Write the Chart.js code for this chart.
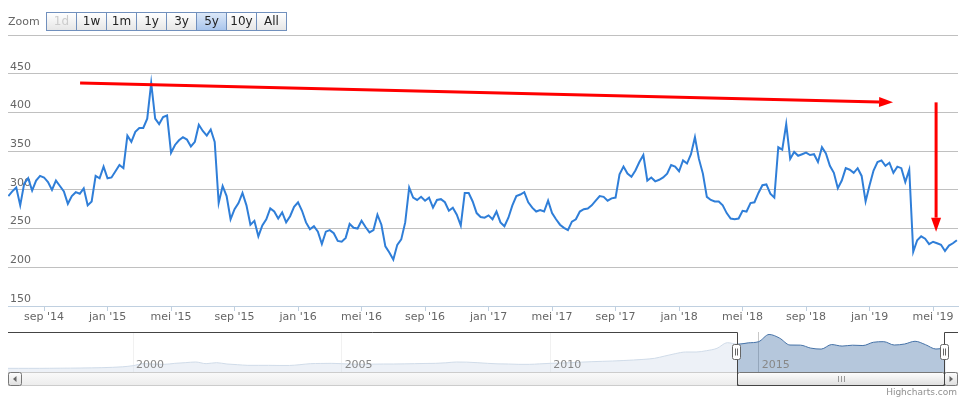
<!DOCTYPE html>
<html>
<head>
<meta charset="utf-8">
<script src="https://cdn.jsdelivr.net/npm/chart.js@4/dist/chart.umd.min.js"></script>
<style>
body { margin: 0; background: #fff; }
#wrap { position: relative; width: 974px; height: 399px; overflow: hidden; font-family: "DejaVu Sans", Verdana, sans-serif; }
canvas { position: absolute; left: 0; }
#main { top: 0; }
#nav { top: 330px; }
.zoomLabel { position: absolute; left: 8px; top: 15px; font-size: 11px; line-height: 13px; color: #666; }
.btn { position: absolute; top: 12px; width: 31px; height: 19px; box-sizing: border-box; border: 1px solid #7190bd;
       background: linear-gradient(#ffffff, #e6e6e6); font-size: 12px; line-height: 17px; text-align: center; color: #222; }
.btn.sel { background: linear-gradient(#dce8f8, #a9c5ec); }
.btn.off { color: #cccccc; }
.credits { position: absolute; right: 17px; top: 387px; font-size: 9px; line-height: 11px; color: #909090; }
</style>
</head>
<body>
<div id="wrap">
  <canvas id="main" width="974" height="330"></canvas>
  <canvas id="nav" width="974" height="69"></canvas>
  <div class="zoomLabel">Zoom</div>
  <div id="buttons"></div>
  <div class="credits">Highcharts.com</div>
</div>
<script>
const FONT = '"DejaVu Sans", Verdana, sans-serif';

// main series: one close every quarter month, months counted from jan 2014
const baseYear = 2014;
const startMonth = 5.75;
const stepMonth = 0.25;
const prices = [
  292, 298, 303, 280, 308, 315, 299, 312, 318, 316, 310, 300, 312, 305, 298, 282, 292, 297, 295, 302,
  280, 285, 318, 315, 330, 315, 316, 324, 332, 328, 370, 362, 375, 380, 380, 392, 438, 392, 385, 394,
  396, 348, 358, 364, 368, 365, 356, 362, 384, 376, 370, 378, 362, 283, 305, 292, 262, 275, 283, 296,
  280, 255, 260, 240, 254, 262, 276, 272, 263, 271, 258, 266, 278, 284, 273, 258, 249, 253, 246, 230,
  246, 248, 244, 234, 233, 238, 256, 251, 250, 260, 252, 245, 248, 268, 255, 227, 219, 210, 229, 236,
  258, 303, 290, 287, 291, 286, 290, 277, 287, 288, 284, 273, 277, 268, 254, 296, 296, 285, 270, 265,
  264, 267, 262, 272, 258, 253, 264, 280, 292, 294, 297, 284, 277, 272, 274, 272, 286, 270, 262, 255,
  251, 248, 259, 262, 272, 275, 276, 280, 286, 292, 291, 286, 289, 290, 320, 330, 321, 317, 325, 336,
  345, 312, 316, 311, 313, 316, 321, 332, 330, 324, 338, 334, 346, 368, 340, 321, 291, 287, 285, 285,
  280, 270, 263, 262, 263, 273, 272, 283, 284, 296, 306, 307, 295, 290, 355, 352, 385, 340, 349, 344,
  346, 348, 345, 346, 336, 355, 347, 331, 322, 302, 312, 328, 326, 322, 328, 318, 285, 306, 325, 336,
  338, 331, 335, 322, 330, 328, 310, 326, 220, 235, 240, 237, 230, 233, 231, 229, 221, 228, 231, 235
];
const viewRange = [5.73, 65.57];
const xTickMonths = [8, 12, 16, 20, 24, 28, 32, 36, 40, 44, 48, 52, 56, 60, 64];
const xTickLabels = ["sep '14", "jan '15", "mei '15", "sep '15", "jan '16", "mei '16", "sep '16", "jan '17",
                     "mei '17", "sep '17", "jan '18", "mei '18", "sep '18", "jan '19", "mei '19"];
const yTicks = [150, 200, 250, 300, 350, 400, 450, 500];

// hand drawn arrows, in [month, value]
const arrowFrom = [[10.27, 438], [64.19, 413]];
const arrowTo = [[61.48, 413], [64.19, 246]];

// navigator: long history, one value per quarter from 1997
const navStartYear = 1997;
const navStepYear = 0.25;
const navValues = [
  55, 55, 55, 55, 56, 57, 58, 60, 62, 65, 70, 78, 95, 125, 118, 115, 130, 140, 150, 125,
  140, 120, 110, 100, 100, 100, 98, 98, 110, 125, 128, 130, 125, 118, 115, 118, 120, 120, 122, 125,
  128, 130, 138, 150, 148, 140, 130, 122, 120, 115, 115, 122, 130, 135, 140, 148, 155, 160, 165, 172,
  180, 190, 205, 240, 275, 300, 300, 320, 355, 440, 417, 437, 455, 563, 509, 405, 403, 358, 344, 412,
  389, 402, 397, 446, 455, 405, 420, 461, 410, 345, 360
];
const navRange = [1997, 2019.78];
const navYearTicks = [2000, 2005, 2010, 2015];

const zoomButtons = ['1d', '1w', '1m', '1y', '3y', '5y', '10y', 'All'];
const selectedButton = '5y';
const disabledButton = '1d';

// range selector buttons
const btnBox = document.getElementById('buttons');
zoomButtons.forEach((b, i) => {
  const d = document.createElement('div');
  d.className = 'btn' + (b === selectedButton ? ' sel' : '') + (b === disabledButton ? ' off' : '');
  d.style.left = (46 + i * 30) + 'px';
  d.textContent = b;
  btnBox.appendChild(d);
});

const arrowPlugin = {
  id: 'arrows',
  afterDatasetsDraw(chart) {
    const { ctx, scales: { x, y } } = chart;
    ctx.save();
    ctx.strokeStyle = '#ff0000';
    ctx.fillStyle = '#ff0000';
    ctx.lineWidth = 3;
    arrowFrom.forEach((f, k) => {
      const x0 = x.getPixelForValue(f[0]), y0 = y.getPixelForValue(f[1]);
      const x1 = x.getPixelForValue(arrowTo[k][0]), y1 = y.getPixelForValue(arrowTo[k][1]);
      const a = Math.atan2(y1 - y0, x1 - x0);
      const bx = x1 - 14 * Math.cos(a), by = y1 - 14 * Math.sin(a);
      ctx.beginPath();
      ctx.moveTo(x0, y0);
      ctx.lineTo(bx, by);
      ctx.stroke();
      ctx.beginPath();
      ctx.moveTo(x1, y1);
      ctx.lineTo(bx - 5 * Math.sin(a), by + 5 * Math.cos(a));
      ctx.lineTo(bx + 5 * Math.sin(a), by - 5 * Math.cos(a));
      ctx.closePath();
      ctx.fill();
    });
    ctx.restore();
  }
};

new Chart(document.getElementById('main'), {
  type: 'line',
  data: {
    datasets: [{
      data: prices.map((p, i) => ({ x: startMonth + i * stepMonth, y: p })),
      borderColor: '#2f7ed8',
      borderWidth: 2,
      pointRadius: 0,
      tension: 0,
      fill: false
    }]
  },
  options: {
    responsive: false,
    animation: false,
    events: [],
    layout: { padding: { left: 8, right: 16, top: 35, bottom: 0 } },
    plugins: { legend: { display: false }, tooltip: { enabled: false } },
    scales: {
      x: {
        type: 'linear',
        min: viewRange[0],
        max: viewRange[1],
        afterBuildTicks: s => { s.ticks = xTickMonths.map(v => ({ value: v })); },
        afterFit: s => { s.height = 24; s.paddingLeft = 0; s.paddingRight = 0; },
        ticks: {
          autoSkip: false, maxRotation: 0, padding: 0, color: '#666',
          font: { family: FONT, size: 11 },
          callback: (v, i) => xTickLabels[i]
        },
        grid: { drawOnChartArea: false, tickLength: 5, color: '#C0D0E0' },
        border: { color: '#C0D0E0' }
      },
      y: {
        min: 150,
        max: 500,
        afterBuildTicks: s => { s.ticks = yTicks.map(v => ({ value: v })); },
        afterFit: s => { s.width = 0; s.paddingTop = 0; s.paddingBottom = 0; },
        ticks: {
          mirror: true, padding: 2, labelOffset: -7, color: '#666',
          font: { family: FONT, size: 11 },
          callback: v => (v === 500 ? '' : v)
        },
        grid: { color: '#C0C0C0', drawTicks: false },
        border: { display: false }
      }
    }
  },
  plugins: [arrowPlugin]
});

const navPlugin = {
  id: 'navigator',
  afterDraw(chart) {
    const { ctx, chartArea: a, scales: { x } } = chart;
    const s0 = Math.round(x.getPixelForValue(baseYear + viewRange[0] / 12));
    const s1 = Math.round(x.getPixelForValue(baseYear + viewRange[1] / 12));
    const sb = a.bottom, sh = 14;
    ctx.save();

    // mask outside the selected range
    ctx.fillStyle = 'rgba(255,255,255,0.75)';
    ctx.fillRect(a.left, a.top, s0 - a.left, a.bottom - a.top);
    ctx.fillRect(s1, a.top, a.right - s1, a.bottom - a.top);

    // year labels
    ctx.font = '11px ' + FONT;
    ctx.fillStyle = '#888';
    ctx.textBaseline = 'alphabetic';
    x.ticks.forEach(t => ctx.fillText(String(t.value), x.getPixelForValue(t.value) + 3, sb - 4));

    // scrollbar track
    let g = ctx.createLinearGradient(0, sb, 0, sb + sh);
    g.addColorStop(0, '#fafafa');
    g.addColorStop(1, '#ececec');
    ctx.fillStyle = g;
    ctx.fillRect(a.left, sb, a.right - a.left, sh);
    ctx.strokeStyle = '#ccc';
    ctx.lineWidth = 1;
    ctx.strokeRect(a.left + 0.5, sb + 0.5, a.right - a.left - 1, sh - 1);

    // scrollbar thumb
    g = ctx.createLinearGradient(0, sb, 0, sb + sh);
    g.addColorStop(0, '#ffffff');
    g.addColorStop(1, '#dddddd');
    ctx.fillStyle = g;
    ctx.strokeStyle = '#777';
    ctx.beginPath();
    ctx.roundRect(s0 + 0.5, sb + 0.5, s1 - s0 - 1, sh - 1, 2);
    ctx.fill();
    ctx.stroke();
    const cx = Math.round((s0 + s1) / 2);
    ctx.strokeStyle = '#999';
    [-3, 0, 3].forEach(d => {
      ctx.beginPath();
      ctx.moveTo(cx + d + 0.5, sb + 4);
      ctx.lineTo(cx + d + 0.5, sb + 10);
      ctx.stroke();
    });

    // scrollbar buttons
    [[a.left, -1], [a.right - 14, 1]].forEach(([bx, dir]) => {
      const gb = ctx.createLinearGradient(0, sb, 0, sb + sh);
      gb.addColorStop(0, '#ffffff');
      gb.addColorStop(1, '#dddddd');
      ctx.fillStyle = gb;
      ctx.strokeStyle = '#777';
      ctx.beginPath();
      ctx.roundRect(bx + 0.5, sb + 0.5, 13, sh - 1, 2);
      ctx.fill();
      ctx.stroke();
      const mx = bx + 7, my = sb + 7;
      ctx.fillStyle = '#666';
      ctx.beginPath();
      ctx.moveTo(mx + 2 * dir, my);
      ctx.lineTo(mx - 1.5 * dir, my - 3);
      ctx.lineTo(mx - 1.5 * dir, my + 3);
      ctx.closePath();
      ctx.fill();
    });

    // outline
    ctx.strokeStyle = '#444';
    ctx.beginPath();
    ctx.moveTo(a.left, a.top + 0.5);
    ctx.lineTo(s0 + 0.5, a.top + 0.5);
    ctx.lineTo(s0 + 0.5, sb + sh - 0.5);
    ctx.lineTo(s1 - 0.5, sb + sh - 0.5);
    ctx.lineTo(s1 - 0.5, a.top + 0.5);
    ctx.lineTo(a.right, a.top + 0.5);
    ctx.stroke();

    // handles
    [s0, s1].forEach(hx => {
      const hy = Math.round(a.top + (a.bottom - a.top) / 2 - 8) + 0.5;
      ctx.fillStyle = '#fff';
      ctx.strokeStyle = '#666';
      ctx.beginPath();
      ctx.roundRect(hx - 4.5, hy, 8, 15, 2);
      ctx.fill();
      ctx.stroke();
      ctx.beginPath();
      ctx.moveTo(hx - 1.5, hy + 4);
      ctx.lineTo(hx - 1.5, hy + 11);
      ctx.moveTo(hx + 0.5, hy + 4);
      ctx.lineTo(hx + 0.5, hy + 11);
      ctx.stroke();
    });
    ctx.restore();
  }
};

new Chart(document.getElementById('nav'), {
  type: 'line',
  data: {
    datasets: [{
      data: navValues.map((v, i) => ({ x: navStartYear + i * navStepYear, y: v })),
      borderColor: '#4572A7',
      borderWidth: 1,
      backgroundColor: 'rgba(69,114,167,0.4)',
      fill: 'start',
      pointRadius: 0,
      cubicInterpolationMode: 'monotone'
    }]
  },
  options: {
    responsive: false,
    animation: false,
    events: [],
    layout: { padding: { left: 8, right: 16, top: 2, bottom: 27 } },
    plugins: { legend: { display: false }, tooltip: { enabled: false } },
    scales: {
      x: {
        type: 'linear',
        min: navRange[0],
        max: navRange[1],
        afterBuildTicks: s => { s.ticks = navYearTicks.map(v => ({ value: v })); },
        afterFit: s => { s.height = 0; s.paddingLeft = 0; s.paddingRight = 0; },
        ticks: { display: false },
        grid: { color: '#C8C8C8', drawTicks: false },
        border: { display: false }
      },
      y: { display: false, min: 0, max: 600 }
    }
  },
  plugins: [navPlugin]
});
</script>
</body>
</html>
